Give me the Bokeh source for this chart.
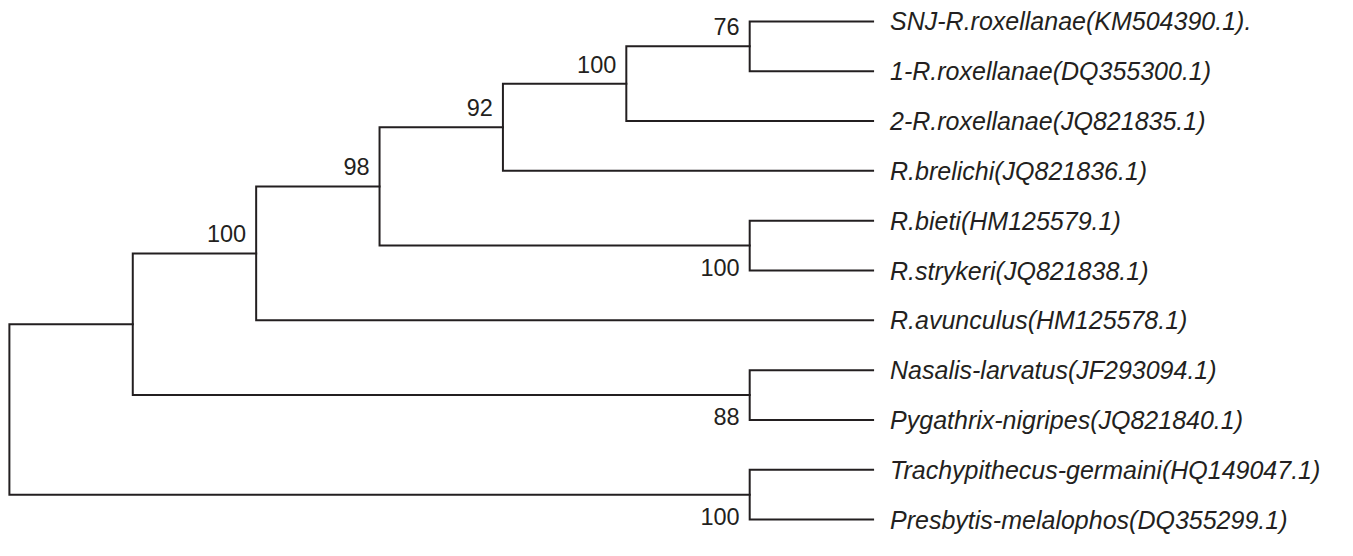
from bokeh.plotting import figure
from bokeh.models import Range1d, ColumnDataSource, LabelSet
from bokeh.core.properties import value
from bokeh.embed import file_html
from bokeh.resources import INLINE

# ---- data: leaves (top to bottom) ----
leaf_names = [
    "SNJ-R.roxellanae(KM504390.1).",
    "1-R.roxellanae(DQ355300.1)",
    "2-R.roxellanae(JQ821835.1)",
    "R.brelichi(JQ821836.1)",
    "R.bieti(HM125579.1)",
    "R.strykeri(JQ821838.1)",
    "R.avunculus(HM125578.1)",
    "Nasalis-larvatus(JF293094.1)",
    "Pygathrix-nigripes(JQ821840.1)",
    "Trachypithecus-germaini(HQ149047.1)",
    "Presbytis-melalophos(DQ355299.1)",
]
leaf_level = 7

# ---- internal nodes (indices 11..20), children refer to leaf / node indices ----
node_child_a = [0, 11, 12, 4, 13, 15, 7, 16, 9, 18]
node_child_b = [1, 2, 3, 5, 14, 6, 8, 17, 10, 19]
node_level = [6, 5, 4, 6, 3, 2, 6, 1, 6, 0]
node_support = ["76", "100", "92", "100", "98", "100", "88", "", "100", ""]
support_side = ["above", "above", "above", "below", "above", "above", "below", "", "below", ""]

INK = "#231f20"
FONT = "Liberation Sans"
n_leaf = len(leaf_names)

ys = list(range(n_leaf))
lv = [leaf_level] * n_leaf
for a, b, l in zip(node_child_a, node_child_b, node_level):
    ys.append((ys[a] + ys[b]) / 2.0)
    lv.append(l)

xs_paths, ys_paths = [], []
for k, (a, b) in enumerate(zip(node_child_a, node_child_b)):
    l = node_level[k]
    xs_paths.append([lv[a], l, l, lv[b]])
    ys_paths.append([ys[a], ys[a], ys[b], ys[b]])

W, H = 1337, 540
p = figure(width=W, height=H, output_backend="svg", toolbar_location=None,
           x_axis_location=None, y_axis_location=None, min_border=0,
           x_range=Range1d(-9 / 124.86, (1353 - 9) / 124.86),
           y_range=Range1d((566 - 20) / 52.4, -22 / 52.4))
p.grid.visible = False
p.outline_line_color = None
p.background_fill_color = "white"
p.border_fill_color = "white"

p.multi_line(xs_paths, ys_paths, line_color=INK, line_width=2,
             line_join="miter", line_cap="square")

leaf_src = ColumnDataSource(dict(x=[leaf_level] * n_leaf, y=list(range(n_leaf)), t=leaf_names))
p.add_layout(LabelSet(x="x", y="y", text="t", source=leaf_src, x_offset=17, y_offset=0,
                      text_font=value(FONT), text_font_style="italic",
                      text_font_size="25px", text_color=INK,
                      text_align="left", text_baseline="middle"))

ax, ay, at = [], [], []
bx, by, bt = [], [], []
for k, s in enumerate(node_support):
    if not s:
        continue
    if support_side[k] == "above":
        ax.append(node_level[k]); ay.append(ys[n_leaf + k]); at.append(s)
    else:
        bx.append(node_level[k]); by.append(ys[node_child_b[k]]); bt.append(s)

p.add_layout(LabelSet(x="x", y="y", text="t",
                      source=ColumnDataSource(dict(x=ax, y=ay, t=at)),
                      x_offset=-10, y_offset=11,
                      text_font=value(FONT), text_font_size="23.5px", text_color=INK,
                      text_align="right", text_baseline="alphabetic"))
p.add_layout(LabelSet(x="x", y="y", text="t",
                      source=ColumnDataSource(dict(x=bx, y=by, t=bt)),
                      x_offset=-10, y_offset=3,
                      text_font=value(FONT), text_font_size="23.5px", text_color=INK,
                      text_align="right", text_baseline="middle"))

open("out.html", "w").write(file_html(p, INLINE))
